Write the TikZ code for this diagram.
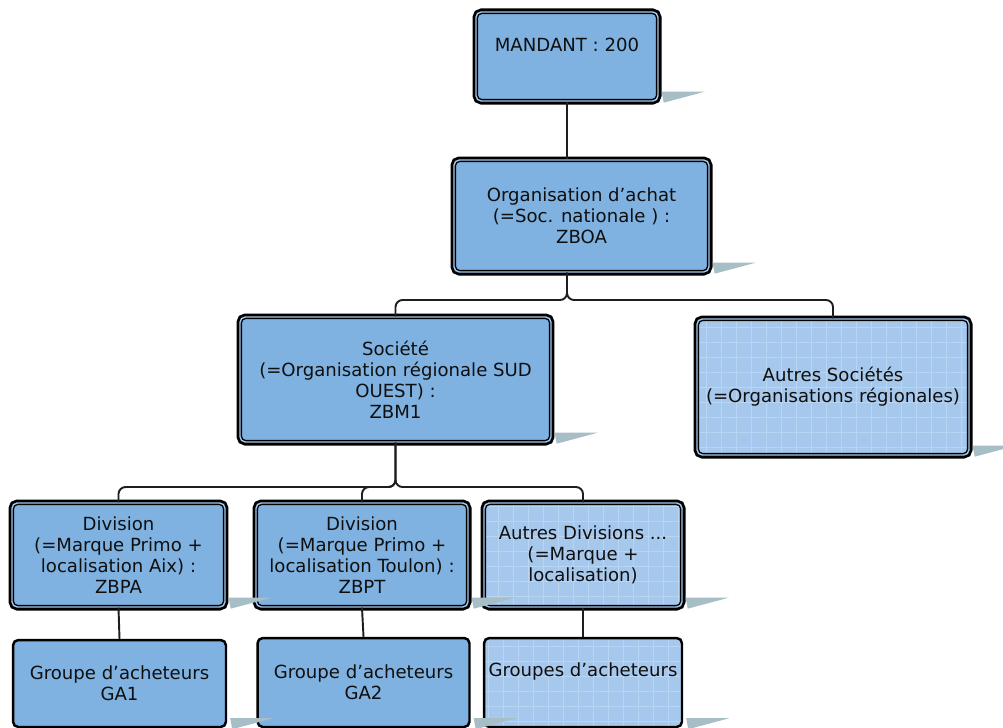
\documentclass[tikz,border=0pt]{standalone}
\usepackage{fontspec}
\setmainfont{DejaVu Sans}
\usepackage{tikz}
\usepackage{xcolor}

\definecolor{boxblue}{RGB}{127,178,224}
\definecolor{boxedge}{RGB}{165,200,236}
\definecolor{gridfill}{RGB}{166,200,236}
\definecolor{gridline}{RGB}{184,213,243}
\definecolor{shadowgrey}{RGB}{168,190,198}
\definecolor{textdark}{RGB}{15,15,15}
\definecolor{linedark}{RGB}{30,30,30}

\begin{document}
\begin{tikzpicture}[x=0.02cm, y=-0.02cm,
		every node/.style={font=\fontsize{10.3}{12}\selectfont, text=textdark, align=center, inner sep=0pt},
		orgbox/.style={preaction={draw=black, line width=4pt, rounded corners=3pt}, draw=black, double=boxedge, double distance=0.8pt, line width=0.8pt, rounded corners=3pt, fill=boxblue},
		gridbox/.style={fill=gridfill, path picture={\draw[gridline, line width=0.5pt] (path picture bounding box.south west) grid[step=0.3cm] (path picture bounding box.north east);}},
		grpbox/.style={draw=black, line width=1.4pt, rounded corners=3pt, fill=boxblue},
		conn/.style={draw=linedark, line width=1.1pt, rounded corners=4pt},
		boxshadow/.style={fill=shadowgrey}]
	\useasboundingbox (0,0) rectangle (1003,727);

	\node[orgbox, minimum width=3.64cm, minimum height=1.78cm, text height=7.3pt, text depth=12.5pt] (mandant) at (567,56.5) {MANDANT : 200};
	\node[orgbox, minimum width=5.1cm, minimum height=2.24cm] (orgachat) at (581.5,216) {Organisation d’achat\\(=Soc. nationale ) :\\ZBOA};
	\node[orgbox, minimum width=6.22cm, minimum height=2.5cm] (societe) at (395.5,379.5) {Société\\(=Organisation régionale SUD\\OUEST) :\\ZBM1};
	\node[orgbox, gridbox, minimum width=5.44cm, minimum height=2.72cm] (autressoc) at (833,387) {Autres Sociétés\\(=Organisations régionales)};
	\node[orgbox, minimum width=4.26cm, minimum height=2.08cm] (divaix) at (118.5,555) {Division\\(=Marque Primo +\\localisation Aix) :\\ZBPA};
	\node[orgbox, minimum width=4.24cm, minimum height=2.08cm] (divtoulon) at (362,555) {Division\\(=Marque Primo +\\localisation Toulon) :\\ZBPT};
	\node[orgbox, gridbox, minimum width=3.96cm, minimum height=2.08cm] (autresdiv) at (583,555) {Autres Divisions ...\\(=Marque +\\localisation)};
	\node[grpbox, minimum width=4.26cm, minimum height=1.74cm] (ga1) at (119.5,683.5) {Groupe d’acheteurs\\GA1};
	\node[grpbox, minimum width=4.24cm, minimum height=1.78cm] (ga2) at (363.5,682.5) {Groupe d’acheteurs\\GA2};
	\node[grpbox, gridbox, minimum width=3.96cm, minimum height=1.78cm, text height=7.6pt, text depth=14pt] (groupes) at (583,682.5) {Groupes d’acheteurs};

	\foreach \n in {mandant,orgachat,societe,autressoc,divaix,divtoulon,autresdiv,ga1,ga2,groupes}
		\fill[boxshadow] ([shift={(3,-10)}]\n.south east) -- ++(43,0) -- ([shift={(5,1)}]\n.south east) -- cycle;

	\coordinate (bus1) at (567,300);
	\coordinate (bus2) at (395.5,487);
	\draw[conn] (mandant.south) -- (mandant.south |- orgachat.north);
	\draw[conn] (orgachat.south -| bus1) -- (bus1) -| (societe.north);
	\draw[conn] (orgachat.south -| bus1) -- (bus1) -| (autressoc.north);
	\draw[conn] (societe.south) -- (bus2) -| (divaix.north);
	\draw[conn] (societe.south) -- (bus2) -| (divtoulon.north);
	\draw[conn] (societe.south) -- (bus2) -| (autresdiv.north);
	\draw[conn] (divaix.south) -- (ga1.north);
	\draw[conn] (divtoulon.south) -- (ga2.north);
	\draw[conn] (autresdiv.south) -- (groupes.north);
\end{tikzpicture}
\end{document}
